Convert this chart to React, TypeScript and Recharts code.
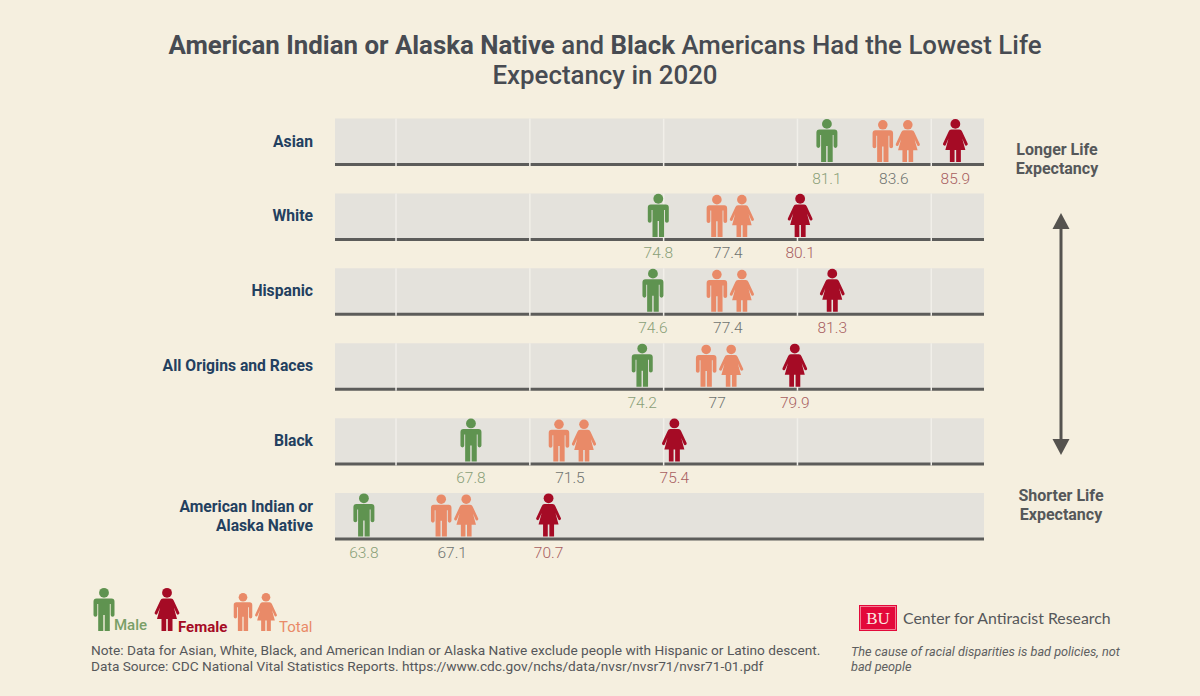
import React from "react";
import { ScatterChart, Scatter, XAxis, YAxis, ReferenceArea, ReferenceLine } from "recharts";

const rows = ["American Indian or|Alaska Native", "Black", "All Origins and Races", "Hispanic", "White", "Asian"];
const maleValues = [63.8, 67.8, 74.2, 74.6, 74.8, 81.1];
const totalValues = [67.1, 71.5, 77, 77.4, 77.4, 83.6];
const totalLabels = ["67.1", "71.5", "77", "77.4", "77.4", "83.6"];
const femaleValues = [70.7, 75.4, 79.9, 81.3, 80.1, 85.9];
const gridValues = [65, 70, 75, 80, 85];

const GREEN = "#5f9350";
const RED = "#a50b25";
const ORANGE = "#e98a68";
const BG = "#f5efdf";
const BAND = "#e4e2dc";
const BAND_SPAN = 0.614;

const toData = (vals: number[]) => vals.map((x, y) => ({ x, y, label: String(x) }));
const maleData = toData(maleValues);
const femaleData = toData(femaleValues);
const totalData = totalValues.map((x, y) => ({ x, y, label: totalLabels[y] }));

function Male({ x, bottom, color, h = 43 }: { x: number; bottom: number; color: string; h?: number }) {
  const s = h / 43;
  return (
    <g transform={`translate(${x - 10.5 * s},${bottom - h}) scale(${s})`} fill={color}>
      <circle cx={10.5} cy={4.8} r={4.9} />
      <path d="M3,10.5 H18 Q21,10.5 21,13.5 V27 Q21,28.8 19,28.8 Q17.2,28.8 17.2,27 V16 H16.3 V43 H11.2 V27 H9.8 V43 H4.7 V16 H3.8 V27 Q3.8,28.8 2,28.8 Q0,28.8 0,27 V13.5 Q0,10.5 3,10.5 Z" />
    </g>
  );
}

function Female({ x, bottom, color, h = 43 }: { x: number; bottom: number; color: string; h?: number }) {
  const s = h / 43;
  return (
    <g transform={`translate(${x - 12.5 * s},${bottom - h}) scale(${s})`} fill={color}>
      <circle cx={12.5} cy={4.8} r={4.9} />
      <path d="M8.5,10.5 H16.5 Q18.5,10.5 19.2,12.5 L24.8,24.5 Q25.3,26 23.8,26.5 Q22.5,27 22,25.6 L19.4,19.5 L22.5,31 H18 V43 H13.3 V31 H11.7 V43 H7 V31 H2.5 L5.6,19.5 L3,25.6 Q2.5,27 1.2,26.5 Q-0.3,26 0.2,24.5 L5.8,12.5 Q6.5,10.5 8.5,10.5 Z" />
    </g>
  );
}

const valueText = (cx: number, cy: number, label: string, color: string) => (
  <text x={cx} y={cy + 19} textAnchor="middle" fontFamily="Roboto" fontWeight={300} fontSize={15.5} fill={color}>
    {label}
  </text>
);

const MaleMark = (p: any) => (
  <g>
    <Male x={p.cx} bottom={p.cy - 2.5} color={GREEN} />
    {valueText(p.cx, p.cy, p.payload.label, "#8a9f78")}
  </g>
);
const FemaleMark = (p: any) => (
  <g>
    <Female x={p.cx} bottom={p.cy - 2.5} color={RED} />
    {valueText(p.cx, p.cy, p.payload.label, "#a8605f")}
  </g>
);
const TotalMark = (p: any) => (
  <g>
    <Male x={p.cx - 11} bottom={p.cy - 2.5} color={ORANGE} h={42} />
    <Female x={p.cx + 14} bottom={p.cy - 2.5} color={ORANGE} h={42} />
    {valueText(p.cx, p.cy, p.payload.label, "#6f7370")}
  </g>
);

const RowTick = (p: any) => {
  const lines = rows[p.payload.value].split("|");
  const mid = p.y - 23;
  return (
    <text textAnchor="end" fontFamily="Roboto" fontWeight={700} fontSize={15.7} fill="#23405f">
      {lines.map((l: string, i: number) => (
        <tspan key={l} x={313} y={mid + 5 + (i - (lines.length - 1) / 2) * 19}>
          {l}
        </tspan>
      ))}
    </text>
  );
};

const TITLE = "#474b52";

export default function App() {
  return (
    <div style={{ position: "absolute", left: 0, top: 0, width: 1200, height: 696, background: BG, overflow: "hidden" }}>
      <svg width={1200} height={696} style={{ position: "absolute", left: 0, top: 0 }}>
        <text textAnchor="middle" fontFamily="Roboto" fontSize={25.85} fill={TITLE} fontWeight={500}>
          <tspan x={605} y={54}>
            <tspan fontWeight={700}>American Indian or Alaska Native</tspan> and <tspan fontWeight={700}>Black</tspan> Americans Had the Lowest Life
          </tspan>
          <tspan x={605} y={84}>Expectancy in 2020</tspan>
        </text>

        <text textAnchor="middle" fontFamily="Roboto" fontWeight={700} fontSize={16} fill="#55585a">
          <tspan x={1057} y={155}>Longer Life</tspan>
          <tspan x={1057} y={174}>Expectancy</tspan>
          <tspan x={1061} y={500.5}>Shorter Life</tspan>
          <tspan x={1061} y={519.5}>Expectancy</tspan>
        </text>
        <line x1={1061} x2={1061} y1={222} y2={446} stroke="#55534f" strokeWidth={3} />
        <path d="M1061,213 L1069.5,229 H1052.5 Z M1061,455 L1069.5,439 H1052.5 Z" fill="#55534f" />

        <Male x={104} bottom={631} color={GREEN} />
        <text x={114} y={630} fontFamily="Roboto" fontWeight={500} fontSize={15} fill="#7a9f68">Male</text>
        <Female x={167} bottom={631} color={RED} />
        <text x={178} y={632} fontFamily="Roboto" fontWeight={700} fontSize={15} fill={RED}>Female</text>
        <Male x={243} bottom={631} color={ORANGE} h={38} />
        <Female x={266} bottom={631} color={ORANGE} h={38} />
        <text x={279} y={632} fontFamily="Roboto" fontWeight={400} fontSize={15} fill={ORANGE}>Total</text>

        <text fontFamily="Roboto" fontSize={13.68} fill="#55575a">
          <tspan x={91} y={655}>Note: Data for Asian, White, Black, and American Indian or Alaska Native exclude people with Hispanic or Latino descent.</tspan>
          <tspan x={91} y={671}>Data Source: CDC National Vital Statistics Reports. https://www.cdc.gov/nchs/data/nvsr/nvsr71/nvsr71-01.pdf</tspan>
        </text>

        <rect x={859} y={605} width={38} height={26} fill="#e3093a" />
        <rect x={860.5} y={606.5} width={35} height={23} fill="none" stroke="#f59aa8" strokeWidth={0.8} />
        <text x={878} y={624} textAnchor="middle" fontFamily="Liberation Serif" fontSize={17} fill="#fbe9e2">BU</text>
        <text x={903} y={624} fontFamily="Lato" fontSize={15.85} fill="#55575a">Center for Antiracist Research</text>
        <text fontFamily="Roboto" fontStyle="italic" fontSize={12.7} fill="#5e5f5f">
          <tspan x={851} y={656}>The cause of racial disparities is bad policies, not</tspan>
          <tspan x={851} y={671}>bad people</tspan>
        </text>
      </svg>

      <div style={{ position: "absolute", left: 0, top: 0 }}>
        <ScatterChart width={1200} height={696} margin={{ top: 118.6, right: 216, bottom: 157, left: 0 }}>
          <XAxis type="number" dataKey="x" domain={[62.72, 86.97]} hide />
          <YAxis
            type="number"
            dataKey="y"
            width={335}
            domain={[0, 5.614]}
            ticks={[0, 1, 2, 3, 4, 5]}
            interval={0}
            axisLine={false}
            tickLine={false}
            tick={RowTick}
          />
          {rows.map((r, i) => (
            <ReferenceArea key={r} y1={i} y2={i + BAND_SPAN} fill={BAND} fillOpacity={1} stroke="none" />
          ))}
          {rows.map((r, i) => (
            <ReferenceLine key={r} y={i} stroke="#5c5c5a" strokeWidth={3} />
          ))}
          {rows.flatMap((r, i) =>
            gridValues.map((g) => (
              <ReferenceLine
                key={`${r}-${g}`}
                segment={[{ x: g, y: i - 0.02 }, { x: g, y: i + BAND_SPAN }]}
                stroke="#f1efe9"
                strokeWidth={1.5}
              />
            ))
          )}
          <Scatter name="Male" data={maleData} shape={MaleMark} isAnimationActive={false} />
          <Scatter name="Total" data={totalData} shape={TotalMark} isAnimationActive={false} />
          <Scatter name="Female" data={femaleData} shape={FemaleMark} isAnimationActive={false} />
        </ScatterChart>
      </div>
    </div>
  );
}
